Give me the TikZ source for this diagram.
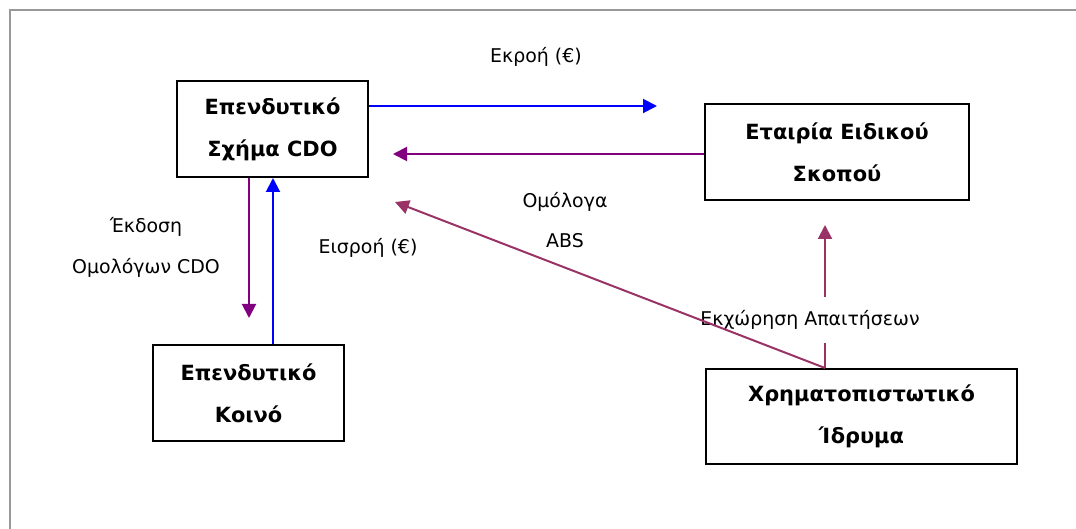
\documentclass[tikz,border=0pt]{standalone}
\usepackage{fontspec}
\setmainfont{DejaVu Sans}
\definecolor{mple}{HTML}{0000FF}
\definecolor{mov}{HTML}{800080}
\definecolor{boukali}{HTML}{993366}
\definecolor{gkri}{HTML}{999999}
\usepackage{tikz}
\usetikzlibrary{arrows.meta, positioning}

\begin{document}
\begin{tikzpicture}[
  x=1bp, y=-1bp,
  kouti/.style={
    rectangle, draw=black, line width=2bp,
    minimum width=191bp, minimum height=96bp,
    align=center, inner sep=0pt,
    font=\fontsize{21}{42}\selectfont\bfseries
  },
  velos/.style={-{Triangle[length=14bp, width=14bp]}, line width=2bp},
  etiketa/.style={align=center, inner sep=1bp,
                  font=\fontsize{19}{41}\selectfont}
]
  \useasboundingbox (0,0) rectangle (1076,529);
  \draw[gkri, line width=2bp] (10,529) -- (10,10) -- (1076,10);

  \node[kouti] (cdo) at (272.5,129) {Επενδυτικό\\Σχήμα CDO};
  \node[kouti, minimum width=264bp] (eidikou) at (837,152.5)
    {Εταιρία Ειδικού\\Σκοπού};
  \node[kouti] (koino) at (248.5,393) {Επενδυτικό\\Κοινό};
  \node[kouti, minimum width=311bp, minimum height=95bp] (idryma)
    at (861.5,416.5) {Χρηματοπιστωτικό\\Ίδρυμα};

  \coordinate (ekroi) at (657,106);
  \coordinate (pros cdo) at (393,154);
  \coordinate (ekdosi) at (249,318);
  \coordinate (anodos) at (273,345);
  \coordinate (abs) at (395,202);
  \coordinate (ekxorisi) at (825,225);

  \draw[velos, mple] (cdo.east |- ekroi) -- (ekroi);
  \draw[velos, mov] (eidikou.west |- pros cdo) -- (pros cdo);
  \draw[velos, mov] (cdo.south -| ekdosi) -- (ekdosi);
  \draw[velos, mple] (koino.north -| anodos) -- (cdo.south -| anodos);
  \draw[velos, boukali] (idryma.north -| ekxorisi) -- (ekxorisi);
  \node[etiketa, fill=white, minimum height=46bp] (ekx lab) at (810,320)
    {Εκχώρηση Απαιτήσεων};
  \draw[velos, boukali] (idryma.north -| ekxorisi) -- (abs);

  \node[etiketa] (ekroi lab) at (536,57) {Εκροή (€)};
  \node[etiketa] (ekdosi lab) at (146,247) {Έκδοση\\Ομολόγων CDO};
  \node[etiketa] (eisroi lab) at (368,248) {Εισροή (€)};
  \node[etiketa] (abs lab) at (565,220) {Ομόλογα\\ABS};
\end{tikzpicture}
\end{document}
